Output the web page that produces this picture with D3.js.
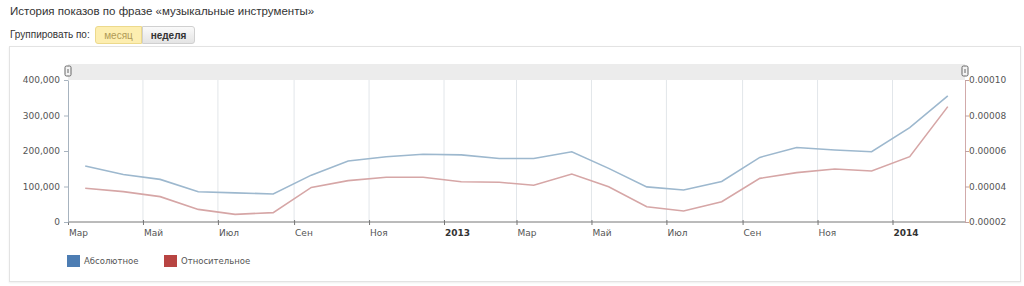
<!DOCTYPE html>
<html>
<head>
<meta charset="utf-8">
<script src="https://cdn.jsdelivr.net/npm/d3@7"></script>
<style>
  body { margin: 0; background: #fff; font-family: "DejaVu Sans", Verdana, sans-serif; }
  #box { position: relative; width: 1024px; height: 286px; overflow: hidden; }
  .title { position: absolute; left: 10px; top: 5px; font-size: 11.5px; color: #333; font-family: "Liberation Sans", Arial, sans-serif; }
  .group { position: absolute; left: 10px; top: 29px; font-size: 10px; color: #333; font-family: "Liberation Sans", Arial, sans-serif; }
  .btn { position: absolute; top: 26px; height: 18px; line-height: 17px; font-size: 10px; text-align: center; box-sizing: border-box; font-family: "Liberation Sans", Arial, sans-serif; }
  .btn.on { left: 95px; width: 47px; background: #fdeeb0; border: 1px solid #ecd98c; color: #b09a55; border-radius: 3px 0 0 3px; }
  .btn.off { left: 142px; width: 53px; background: linear-gradient(#fafafa, #e4e4e4); border: 1px solid #d0d0d0; color: #333; border-radius: 0 3px 3px 0; font-weight: bold; }
  .frame { position: absolute; left: 9px; top: 46px; width: 1012px; height: 236px; border: 1px solid #e3e3e3; box-shadow: 0 1px 2px #eee; box-sizing: border-box; }
</style>
</head>
<body>
<div id="box">
  <div class="title">История показов по фразе «музыкальные инструменты»</div>
  <div class="group">Группировать по:</div>
  <div class="btn on">месяц</div>
  <div class="btn off">неделя</div>
  <div class="frame"></div>
</div>
<script>
const months = ["2012-03","2012-04","2012-05","2012-06","2012-07","2012-08","2012-09","2012-10","2012-11","2012-12",
                "2013-01","2013-02","2013-03","2013-04","2013-05","2013-06","2013-07","2013-08","2013-09","2013-10",
                "2013-11","2013-12","2014-01","2014-02"];
const absolute = [158000,134000,120000,85000,82000,79000,132000,172000,184000,191000,
                  189000,179000,179000,198000,151000,99000,90000,114000,182000,210000,
                  203000,198000,266000,355000];
const relative = [0.0000390,0.0000371,0.0000343,0.0000271,0.0000243,0.0000253,0.0000395,0.0000433,0.0000452,0.0000452,
                  0.0000427,0.0000424,0.0000407,0.0000470,0.0000399,0.0000286,0.0000262,0.0000314,0.0000446,0.0000478,
                  0.0000499,0.0000487,0.0000568,0.0000850];
const leftTicks = [0,100000,200000,300000,400000];
const rightTicks = [0.00002,0.00004,0.00006,0.00008,0.00010];
const monthNames = ["Янв","Фев","Мар","Апр","Май","Июн","Июл","Авг","Сен","Окт","Ноя","Дек"];
const seriesNames = ["Абсолютное","Относительное"];

const W = 1024, H = 286;
const margin = { left: 68, right: 59, top: 80, bottom: 64 };

const svg = d3.select('#box').append('svg')
  .attr('width', W).attr('height', H)
  .style('position', 'absolute').style('left', 0).style('top', 0);

const dates = months.map(m => new Date(m + "-15T00:00:00Z"));
const x = d3.scaleUtc()
  .domain([new Date("2012-03-01T00:00:00Z"), new Date("2014-03-01T00:00:00Z")])
  .range([margin.left, W - margin.right]);
const yL = d3.scaleLinear().domain([0, 400000]).range([H - margin.bottom, margin.top]);
const yR = d3.scaleLinear().domain([0.00002, 0.0001]).range([H - margin.bottom, margin.top]);

const xTicks = d3.utcMonth.every(2).range(x.domain()[0], x.domain()[1]);

// top navigator band
svg.append('rect')
  .attr('x', margin.left).attr('y', 64)
  .attr('width', W - margin.right - margin.left).attr('height', margin.top - 64)
  .attr('fill', '#ececec');

// vertical grid
svg.append('g').selectAll('line')
  .data(xTicks.slice(1))
  .enter().append('line')
  .attr('x1', d => x(d)).attr('x2', d => x(d))
  .attr('y1', margin.top).attr('y2', H - margin.bottom)
  .attr('stroke', '#e2e6ea');

// x axis
const xAxis = d3.axisBottom(x).tickValues(xTicks).tickSize(3).tickFormat('');
const gx = svg.append('g')
  .attr('transform', `translate(0, ${H - margin.bottom})`)
  .call(xAxis);
gx.select('.domain').attr('stroke', '#777').attr('d', `M${margin.left},0H${W - margin.right}`);
gx.selectAll('.tick line').attr('stroke', '#777').attr('y1', -2);
svg.append('g').selectAll('text')
  .data(xTicks)
  .enter().append('text')
  .attr('x', d => x(d) + 1)
  .attr('y', H - margin.bottom + 14)
  .attr('font-size', 9)
  .attr('font-weight', d => d.getUTCMonth() === 0 ? 'bold' : 'normal')
  .attr('fill', d => d.getUTCMonth() === 0 ? '#333' : '#555')
  .text(d => d.getUTCMonth() === 0 ? d.getUTCFullYear() : monthNames[d.getUTCMonth()]);

// left axis
const gl = svg.append('g')
  .attr('transform', `translate(${margin.left}, 0)`)
  .call(d3.axisLeft(yL).tickValues(leftTicks).tickFormat(d3.format(',')).tickSize(4).tickSizeOuter(0));
gl.select('.domain').attr('stroke', '#a7b3bf');
gl.selectAll('.tick line').attr('stroke', '#a7b3bf');
gl.selectAll('.tick text').attr('font-size', 9).attr('fill', '#555')
  .attr('font-family', '"DejaVu Sans", Verdana, sans-serif').attr('x', -8);

// right axis
const gr = svg.append('g')
  .attr('transform', `translate(${W - margin.right}, 0)`)
  .call(d3.axisRight(yR).tickValues(rightTicks).tickFormat(d3.format('.5f')).tickSize(4).tickSizeOuter(0));
gr.select('.domain').attr('stroke', '#d1aaaa');
gr.selectAll('.tick line').attr('stroke', '#c0a0a0');
gr.selectAll('.tick text').attr('font-size', 9).attr('fill', '#555')
  .attr('font-family', '"DejaVu Sans", Verdana, sans-serif').attr('x', 4);

// handles
[margin.left, W - margin.right].forEach(hx => {
  svg.append('rect')
    .attr('x', hx - 3).attr('y', 66).attr('width', 6).attr('height', 10).attr('rx', 1.5)
    .attr('fill', '#f4f4f4').attr('stroke', '#666');
  svg.append('line')
    .attr('x1', hx).attr('x2', hx).attr('y1', 69).attr('y2', 73)
    .attr('stroke', '#666');
});

// lines
const lineL = d3.line().x((d, i) => x(dates[i])).y(d => yL(d));
const lineR = d3.line().x((d, i) => x(dates[i])).y(d => yR(d));
svg.append('path').datum(absolute)
  .attr('d', lineL).attr('fill', 'none').attr('stroke', '#9db8ce').attr('stroke-width', 1.6);
svg.append('path').datum(relative)
  .attr('d', lineR).attr('fill', 'none').attr('stroke', '#d6a6a6').attr('stroke-width', 1.6);

// legend
const legendColors = ['#4d7db3', '#b84442'];
const legendX = [67, 164];
const lg = svg.append('g');
seriesNames.forEach((n, i) => {
  lg.append('rect').attr('x', legendX[i]).attr('y', 255).attr('width', 13).attr('height', 12)
    .attr('fill', legendColors[i]);
  lg.append('text').attr('x', legendX[i] + 17).attr('y', 264)
    .attr('font-size', 8.5).attr('fill', '#555').text(n);
});
</script>
</body>
</html>
